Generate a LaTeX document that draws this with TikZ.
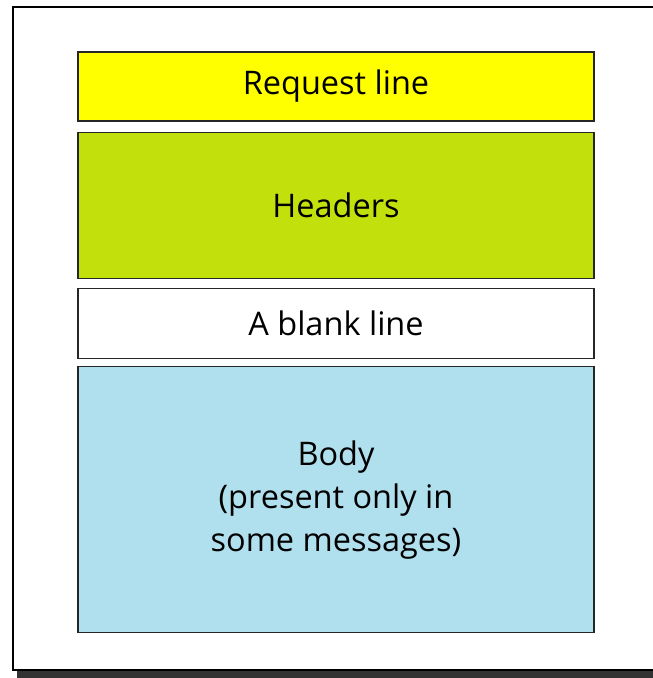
\documentclass[tikz,border=0pt]{standalone}
\usepackage{fontspec}
\setmainfont{Open Sans}
\usetikzlibrary{positioning}
\definecolor{reqyellow}{RGB}{255,255,0}
\definecolor{hdrgreen}{RGB}{194,225,12}
\definecolor{bodyblue}{RGB}{176,224,238}
\tikzset{
  x=1pt, y=1pt,
  node distance=10pt,
  part/.style={draw=black!85, line width=1.6pt, minimum width=516pt,
    inner sep=0pt, align=center, font=\fontsize{32.5}{43}\selectfont},
}

\begin{document}
\begin{tikzpicture}
  \useasboundingbox (0,0) rectangle (653,678);
  % outer frame
  \fill[black!80] (17,0) rectangle (670,664);
  \draw[line width=1.6pt, fill=white] (13,8) rectangle (665,671);

  % message parts
  \node[part, fill=reqyellow, minimum height=69pt] (req) at (336,591.5) {Request line};
  \node[part, fill=hdrgreen, minimum height=146pt, below=10pt of req] (hdr) {Headers};
  \node[part, fill=white, minimum height=70pt, below=8.4pt of hdr] (blank) {A blank line};
  \node[part, fill=bodyblue, minimum height=266pt, below=6.5pt of blank] (body)
    {Body\\(present only in\\some messages)};
\end{tikzpicture}
\end{document}
